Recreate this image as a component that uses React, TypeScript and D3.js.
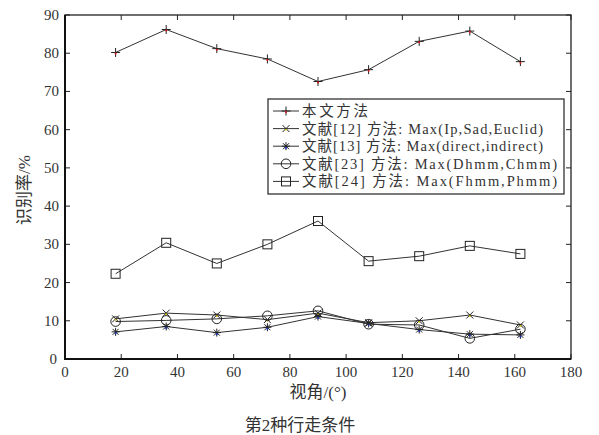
import * as d3 from "d3";

const angles = [18, 36, 54, 72, 90, 108, 126, 144, 162];
const ours = [80.2, 86.2, 81.2, 78.5, 72.6, 75.7, 83.1, 85.8, 77.8];
const ref12 = [10.5, 12.0, 11.5, 10.3, 12.0, 9.5, 10.0, 11.5, 8.9];
const ref13 = [7.1, 8.5, 6.9, 8.3, 11.1, 9.3, 7.7, 6.5, 6.3];
const ref23 = [9.8, 10.1, 10.5, 11.3, 12.6, 9.1, 8.9, 5.4, 7.8];
const ref24 = [22.3, 30.4, 25.0, 30.0, 36.1, 25.6, 26.9, 29.6, 27.5];
const legendLabels = [
  "本文方法",
  "文献[12] 方法: Max(Ip,Sad,Euclid)",
  "文献[13] 方法: Max(direct,indirect)",
  "文献[23] 方法: Max(Dhmm,Chmm)",
  "文献[24] 方法: Max(Fhmm,Phmm)",
];
const legendWidths = [66, 241, 241, 255, 255];
const xTicks = d3.range(0, 181, 20);
const yTicks = d3.range(0, 91, 10);

const FONT = "'Liberation Serif', 'Noto Sans CJK SC', serif";
const W = 599, H = 435;
const left = 65, right = 571, top = 15, bottom = 359;

type Kind = "plus" | "x" | "star" | "circle" | "square";

function Marker({ kind, x, y }: { kind: Kind; x: number; y: number }) {
  const s = 4.5;
  const st = { stroke: "#222", strokeWidth: 1, fill: "none" };
  if (kind === "plus")
    return (
      <g>
        <path d={`M${x - s},${y}H${x + s}M${x},${y - s}V${y + s}`} {...st} />
        <circle cx={x} cy={y + 1} r={1} fill="#e01010" />
      </g>
    );
  if (kind === "x")
    return (
      <g>
        <path d={`M${x - 3.5},${y - 3.5}L${x + 3.5},${y + 3.5}M${x - 3.5},${y + 3.5}L${x + 3.5},${y - 3.5}`} {...st} />
        <circle cx={x} cy={y + 1} r={0.9} fill="#e0c000" />
      </g>
    );
  if (kind === "star")
    return (
      <g>
        <path
          d={`M${x - 4},${y}H${x + 4}M${x},${y - 4}V${y + 4}M${x - 3},${y - 3}L${x + 3},${y + 3}M${x - 3},${y + 3}L${x + 3},${y - 3}`}
          {...st}
        />
        <circle cx={x} cy={y + 1.5} r={1} fill="#1030c0" />
      </g>
    );
  if (kind === "circle") return <circle cx={x} cy={y} r={4.8} {...st} />;
  return <rect x={x - 4.5} y={y - 4.5} width={9} height={9} {...st} />;
}

export default function App() {
  const x = d3.scaleLinear().domain([0, 180]).range([left, right]);
  const y = d3.scaleLinear().domain([0, 90]).range([bottom, top]);
  const line = d3.line<number>().x((_, i) => x(angles[i])).y((d) => y(d));

  const series: { values: number[]; kind: Kind }[] = [
    { values: ours, kind: "plus" },
    { values: ref12, kind: "x" },
    { values: ref13, kind: "star" },
    { values: ref23, kind: "circle" },
    { values: ref24, kind: "square" },
  ];

  const lg = { x0: 268, y0: 99, w: 296, h: 95, row0: 111, step: 17.6 };

  return (
    <svg
      width={W}
      height={H}
      style={{ position: "absolute", left: 0, top: 0, background: "#fff" }}
      fontFamily={FONT}
    >
      {/* ticks */}
      {xTicks.map((t) => (
        <g key={"x" + t}>
          <line x1={x(t)} x2={x(t)} y1={bottom} y2={bottom - 5} stroke="#222" />
          <line x1={x(t)} x2={x(t)} y1={top} y2={top + 5} stroke="#222" />
          <text x={x(t)} y={377} textAnchor="middle" fontSize={15} fill="#333">
            {t}
          </text>
        </g>
      ))}
      {yTicks.map((t) => (
        <g key={"y" + t}>
          <line x1={left} x2={left + 5} y1={y(t)} y2={y(t)} stroke="#222" />
          <line x1={right} x2={right - 5} y1={y(t)} y2={y(t)} stroke="#222" />
          <text x={t === 0 ? 57 : 59} y={y(t) + 5} textAnchor="end" fontSize={15} fill="#333">
            {t}
          </text>
        </g>
      ))}
      <rect x={left} y={top} width={right - left} height={bottom - top} fill="none" stroke="#222" strokeWidth={1.3} />
      <path d={`M${left},${top}V${bottom}H${right}`} fill="none" stroke="#111" strokeWidth={2} />

      {/* series */}
      {series.map((s, si) => (
        <g key={si}>
          <path d={line(s.values) ?? ""} fill="none" stroke="#333" strokeWidth={1} />
          {s.values.map((v, i) => (
            <Marker key={i} kind={s.kind} x={x(angles[i])} y={y(v)} />
          ))}
        </g>
      ))}

      {/* legend */}
      <rect x={lg.x0} y={lg.y0} width={lg.w} height={lg.h} fill="#fff" stroke="#222" strokeWidth={1.2} />
      {series.map((s, i) => {
        const ry = lg.row0 + i * lg.step;
        return (
          <g key={"lg" + i}>
            <line x1={273} x2={299} y1={ry} y2={ry} stroke="#333" />
            <Marker kind={s.kind} x={286} y={ry} />
            <text
              x={302}
              y={ry + 5}
              fontSize={14.5}
              fill="#333"
              textLength={legendWidths[i]}
              lengthAdjust="spacing"
            >
              {legendLabels[i]}
            </text>
          </g>
        );
      })}

      {/* axis titles */}
      <text x={318} y={398} textAnchor="middle" fontSize={17} fill="#333">
        视角/(°)
      </text>
      <text
        transform={`translate(30,190) rotate(-90)`}
        textAnchor="middle"
        fontSize={17}
        fill="#333"
      >
        识别率/%
      </text>
      <text x={300} y={431} textAnchor="middle" fontSize={17} fill="#333">
        第2种行走条件
      </text>
    </svg>
  );
}
